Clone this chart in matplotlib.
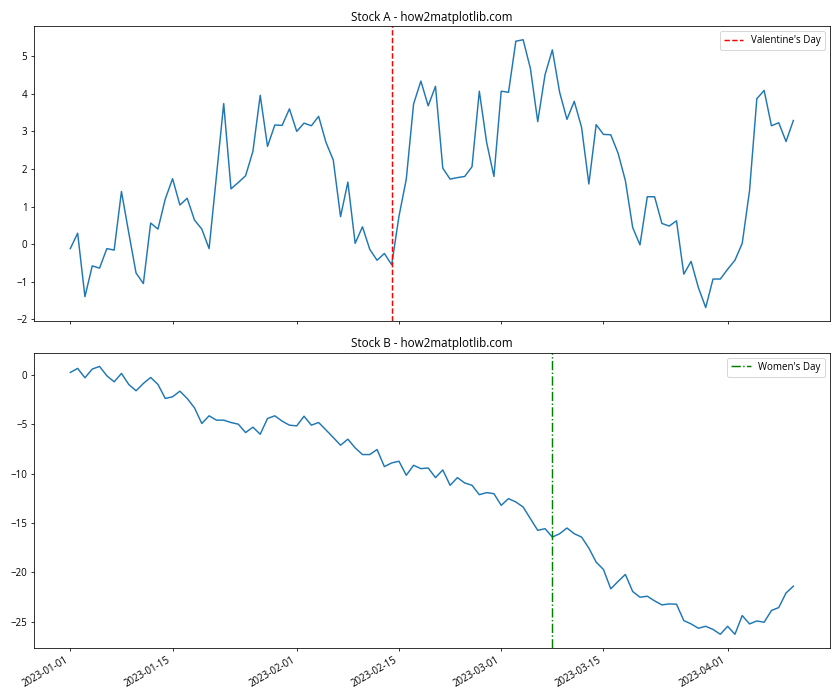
import matplotlib
matplotlib.use('Agg')
import matplotlib.pyplot as plt
import pandas as pd

plt.rcParams['font.family'] = ['Open Sans', 'DejaVu Sans']

dates = pd.date_range('2023-01-01', periods=100, freq='D')

stock_a = [
    -0.12, 0.29, -1.40, -0.58, -0.64, -0.12, -0.16, 1.40, 0.30, -0.77,
    -1.05, 0.56, 0.40, 1.20, 1.74, 1.04, 1.22, 0.64, 0.40, -0.12,
    1.80, 3.74, 1.47, 1.64, 1.82, 2.47, 3.96, 2.60, 3.17, 3.16,
    3.60, 3.00, 3.22, 3.15, 3.40, 2.71, 2.24, 0.73, 1.65, 0.02,
    0.46, -0.14, -0.43, -0.25, -0.55, 0.74, 1.73, 3.73, 4.34, 3.68,
    4.20, 2.02, 1.73, 1.77, 1.80, 2.06, 4.07, 2.71, 1.80, 4.07,
    4.04, 5.40, 5.44, 4.67, 3.26, 4.51, 5.17, 4.04, 3.32, 3.80,
    3.11, 1.60, 3.18, 2.92, 2.91, 2.42, 1.69, 0.44, -0.02, 1.26,
    1.26, 0.55, 0.48, 0.62, -0.80, -0.46, -1.16, -1.69, -0.93, -0.93,
    -0.67, -0.43, 0.02, 1.42, 3.87, 4.09, 3.15, 3.23, 2.73, 3.29,
]

stock_b = [
    0.27, 0.68, -0.27, 0.61, 0.88, -0.07, -0.68, 0.17, -0.95, -1.59,
    -0.85, -0.24, -0.95, -2.37, -2.20, -1.63, -2.37, -3.32, -4.91, -4.13,
    -4.57, -4.57, -4.81, -4.98, -5.83, -5.28, -6.00, -4.40, -4.13, -4.67,
    -5.08, -5.15, -4.17, -5.08, -4.81, -5.56, -6.33, -7.11, -6.50, -7.38,
    -8.06, -8.06, -7.55, -9.28, -8.91, -8.74, -10.16, -9.15, -9.49, -9.42,
    -10.40, -9.62, -11.18, -10.40, -10.94, -11.18, -12.13, -11.92, -12.03, -13.21,
    -12.53, -12.87, -13.38, -14.57, -15.75, -15.58, -16.43, -16.09, -15.51, -16.09,
    -16.43, -17.55, -18.97, -19.72, -21.68, -20.93, -20.22, -21.95, -22.53, -22.43,
    -22.90, -23.31, -23.21, -23.24, -24.90, -25.24, -25.68, -25.48, -25.80, -26.29,
    -25.48, -26.29, -24.39, -25.24, -24.94, -25.07, -23.88, -23.58, -22.10, -21.41,
]

valentines = pd.Timestamp('2023-02-14')
womens_day = pd.Timestamp('2023-03-08')

fig, (ax1, ax2) = plt.subplots(2, 1, figsize=(12, 10), dpi=70, sharex=True)

ax1.plot(dates, stock_a)
ax1.axvline(valentines, color='r', linestyle='--', label="Valentine's Day")
ax1.set_title('Stock A - how2matplotlib.com')
ax1.legend(loc='upper right')

ax2.plot(dates, stock_b)
ax2.axvline(womens_day, color='g', linestyle='-.', label="Women's Day")
ax2.set_title('Stock B - how2matplotlib.com')
ax2.legend(loc='upper right')

fig.autofmt_xdate()
plt.tight_layout()
plt.savefig('out.png')
